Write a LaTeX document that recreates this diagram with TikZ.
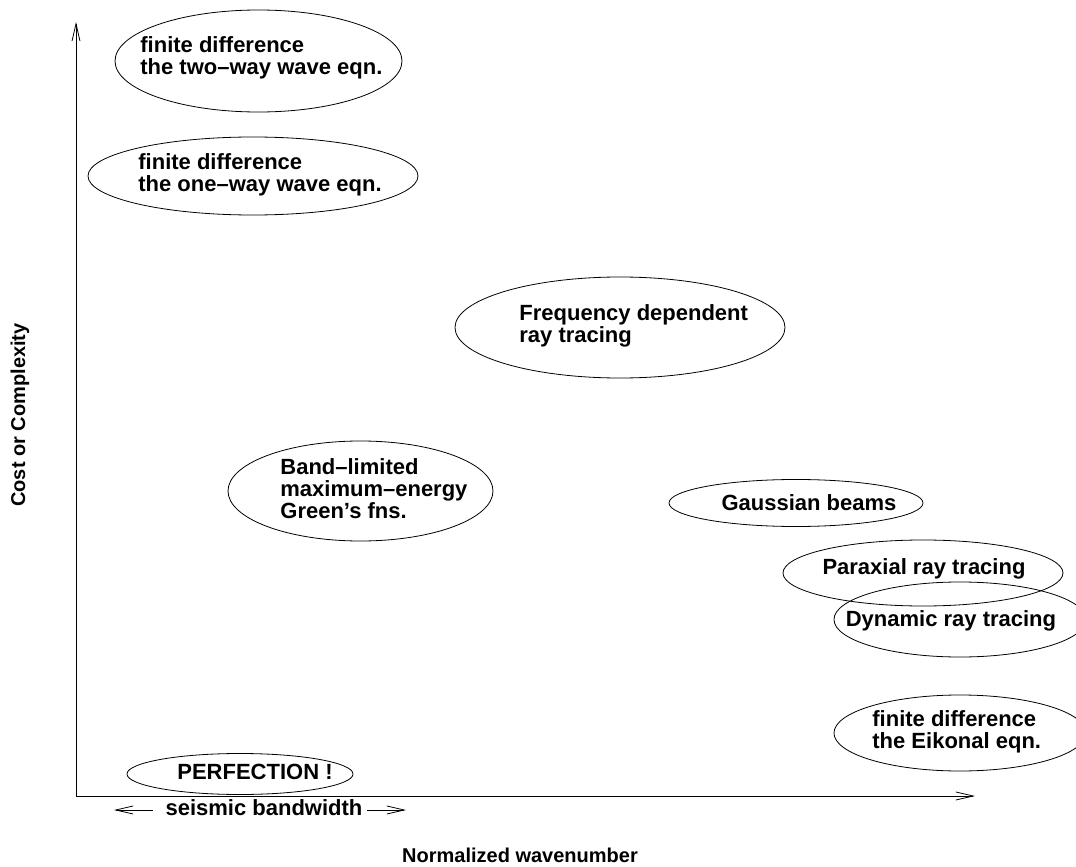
\documentclass[tikz,border=0pt]{standalone}
\usepackage{fontspec}
\setmainfont{Liberation Sans}
\usetikzlibrary{shapes.geometric,arrows.meta}
\begin{document}
\begin{tikzpicture}[x=0.75pt,y=-0.75pt, line width=0.6pt,
  oval/.style={draw, ellipse, inner sep=0pt, outer sep=0pt},
  lbl/.style={font=\fontsize{16.5}{16.5}\selectfont\bfseries, inner sep=0pt, align=left},
  axlbl/.style={font=\fontsize{15}{15}\selectfont\bfseries, inner sep=0pt},
  barb/.style={-{Straight Barb[length=13pt,width=6pt]}}]
\useasboundingbox (0,0) rectangle (1076,867);
\clip (0,0) rectangle (1076,867);

% axes
\coordinate (O) at (76,796);
\coordinate (Ytop) at (76,22);
\coordinate (Xend) at (975,796);
\draw[barb] (O) -- (Ytop);
\draw[barb] (O) -- (Xend);

% ellipses
\node[oval, minimum width=215.25pt, minimum height=76.5pt] (e1) at (258.5,61) {};
\node[oval, minimum width=247.5pt, minimum height=58.5pt] (e2) at (253,176) {};
\node[oval, minimum width=247.5pt, minimum height=75.75pt] (e3) at (620,327.5) {};
\node[oval, minimum width=198.75pt, minimum height=75pt] (e4) at (360.5,491) {};
\node[oval, minimum width=190.5pt, minimum height=35.25pt] (e5) at (796,503) {};
\node[oval, minimum width=210pt, minimum height=49.5pt] (e6) at (923,573) {};
\node[oval, minimum width=189pt, minimum height=56.25pt] (e7) at (960,619.5) {};
\node[oval, minimum width=189pt, minimum height=57pt] (e8) at (960,733) {};
\node[oval, minimum width=169.5pt, minimum height=30.75pt] (e9) at (240,774) {};

% texts
\node[lbl, anchor=west] (t1) at (140,58) {finite difference\\the two--way wave eqn.};
\node[lbl, anchor=west] (t2) at (138,175) {finite difference\\the one--way wave eqn.};
\node[lbl, anchor=west] (t3) at (519,326) {Frequency dependent\\ray tracing};
\node[lbl, anchor=west] (t4) at (280,489) {Band--limited\\maximum--energy\\Green’s fns.};
\node[lbl] (t5) at (809,503) {Gaussian beams};
\node[lbl] (t6) at (924,569) {Paraxial ray tracing};
\node[lbl] (t7) at (951,621) {Dynamic ray tracing};
\node[lbl, anchor=west] (t8) at (872,732) {finite difference\\the Eikonal eqn.};
\node[lbl] (t9) at (255,772) {PERFECTION !};

% seismic bandwidth
\node[lbl] (sb) at (264,808) {seismic bandwidth};
\coordinate (sbLa) at (153,810);
\coordinate (sbL) at (114,810);
\coordinate (sbRa) at (367,810);
\coordinate (sbR) at (406,810);
\draw[barb] (sbLa) -- (sbL);
\draw[barb] (sbRa) -- (sbR);

% axis labels
\node[axlbl] (xl) at (520,855) {Normalized wavenumber};
\node[axlbl, rotate=90] (yl) at (20,415) {Cost or Complexity};
\end{tikzpicture}
\end{document}
